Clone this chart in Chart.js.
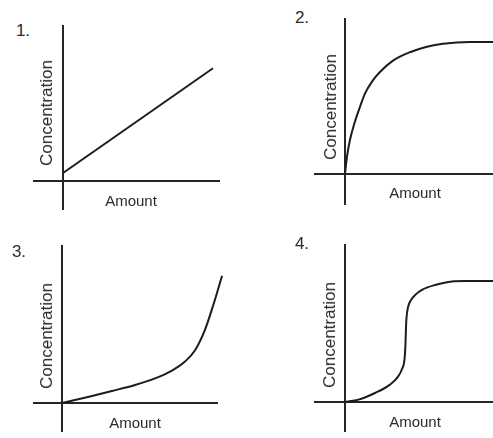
<!DOCTYPE html>
<html>
<head>
<meta charset="utf-8">
<script src="https://cdn.jsdelivr.net/npm/chart.js@4.4.1/dist/chart.umd.min.js"></script>
<style>
  html, body { margin: 0; background: #fff; }
  #stage { position: relative; width: 493px; height: 438px; overflow: hidden;
           font-family: 'Liberation Sans', Arial, sans-serif; color: #2a2a2a; }
  .plot { position: absolute; }
  .lbl { position: absolute; white-space: nowrap; transform: translate(-50%, -50%); }
  .vt { transform: translate(-50%, -50%) rotate(-90deg); }
  .num { font-size: 17px; }
  .ylab { font-size: 17px; }
  .xlab { font-size: 15px; }
</style>
</head>
<body>
<div id="stage"></div>
<script>
// values (amount / concentration, arbitrary units)
const amount1 = [0, 10];
const conc1 = [0.67, 9.4];

const amount2 = [0, 0.13, 0.33, 0.67, 1, 1.33, 1.8, 2.33, 3.2, 4.33, 5.47, 6.53, 8.33, 9.87];
const conc2 = [0, 1.42, 2.83, 4.4, 5.6, 6.7, 7.7, 8.5, 9.45, 10.15, 10.6, 10.85, 11, 11];

const amount3 = [0, 1.73, 3.33, 4.87, 6.2, 7.33, 8.2, 8.87, 9.53, 10.07, 10.67];
const conc3 = [0, 0.5, 1, 1.5, 2.05, 2.7, 3.45, 4.4, 6.1, 8.1, 10.6];

const amount4 = [0, 0.9, 2, 3, 3.5, 3.8, 3.97, 4.03, 4.07, 4.1, 4.2, 4.4, 4.7, 5.13, 6, 7.13, 8, 9.87];
const conc4 = [0, 0.2, 0.75, 1.45, 2.05, 2.75, 3.6, 4.8, 6.3, 7.0, 7.9, 8.5, 8.95, 9.35, 9.75, 10.05, 10.08, 10.08];

const panelNames = ['1.', '2.', '3.', '4.'];
const xAxisLabel = 'Amount';
const yAxisLabel = 'Concentration';

// where each little graph sits on the page
const PX_X = 15, PX_Y = 12;
const panels = [
  { amount: amount1, conc: conc1, smooth: false, overhang: 0,
    box: [33, 25, 187, 185], origin: [63, 181], num: [23, 31], ylab: [47, 113], xlab: [131, 200] },
  { amount: amount2, conc: conc2, smooth: true, overhang: 0,
    box: [314, 18, 179, 187], origin: [345, 174], num: [302, 18], ylab: [331, 107], xlab: [415, 192] },
  { amount: amount3, conc: conc3, smooth: true, overhang: 8,
    box: [33, 245, 185, 187], origin: [62, 403], num: [19, 252], ylab: [47, 336], xlab: [135, 422] },
  { amount: amount4, conc: conc4, smooth: true, overhang: 0,
    box: [314, 244, 179, 188], origin: [345, 402], num: [302, 244], ylab: [330, 335], xlab: [415, 421] }
];

const stage = document.getElementById('stage');

function addLabel(text, cls, pos) {
  const d = document.createElement('div');
  d.className = 'lbl ' + cls;
  d.textContent = text;
  d.style.left = pos[0] + 'px';
  d.style.top = pos[1] + 'px';
  stage.appendChild(d);
}

const axisLine = ctx => (ctx.tick && ctx.tick.value === 0) ? '#262626' : 'rgba(0,0,0,0)';

panels.forEach((p, i) => {
  const [left, top, w, h] = p.box;
  const [ox, oy] = p.origin;
  const cw = w + p.overhang;

  const wrap = document.createElement('div');
  wrap.className = 'plot';
  wrap.style.left = left + 'px';
  wrap.style.top = top + 'px';
  wrap.style.width = cw + 'px';
  wrap.style.height = h + 'px';
  const cv = document.createElement('canvas');
  cv.width = cw;
  cv.height = h;
  wrap.appendChild(cv);
  stage.appendChild(wrap);

  new Chart(cv, {
    type: 'line',
    data: {
      datasets: [{
        data: p.amount.map((a, k) => ({ x: a, y: p.conc[k] })),
        borderColor: '#1c1c1c',
        borderWidth: 2,
        pointRadius: 0,
        fill: false,
        clip: false,
        cubicInterpolationMode: p.smooth ? 'monotone' : 'default',
        tension: 0
      }]
    },
    options: {
      responsive: false,
      animation: false,
      events: [],
      layout: { padding: { left: 0, top: 0, bottom: 0, right: p.overhang } },
      plugins: { legend: { display: false }, tooltip: { enabled: false } },
      scales: {
        x: {
          type: 'linear',
          min: (left - ox) / PX_X,
          max: (left + w - ox) / PX_X,
          afterBuildTicks: axis => { axis.ticks = [{ value: 0 }]; },
          ticks: { display: false },
          border: { display: false },
          grid: { color: axisLine, lineWidth: 2, drawTicks: false }
        },
        y: {
          type: 'linear',
          min: -(top + h - oy) / PX_Y,
          max: (oy - top) / PX_Y,
          afterBuildTicks: axis => { axis.ticks = [{ value: 0 }]; },
          ticks: { display: false },
          border: { display: false },
          grid: { color: axisLine, lineWidth: 2, drawTicks: false }
        }
      }
    }
  });

  addLabel(panelNames[i], 'num', p.num);
  addLabel(yAxisLabel, 'ylab vt', p.ylab);
  addLabel(xAxisLabel, 'xlab', p.xlab);
});
</script>
</body>
</html>
